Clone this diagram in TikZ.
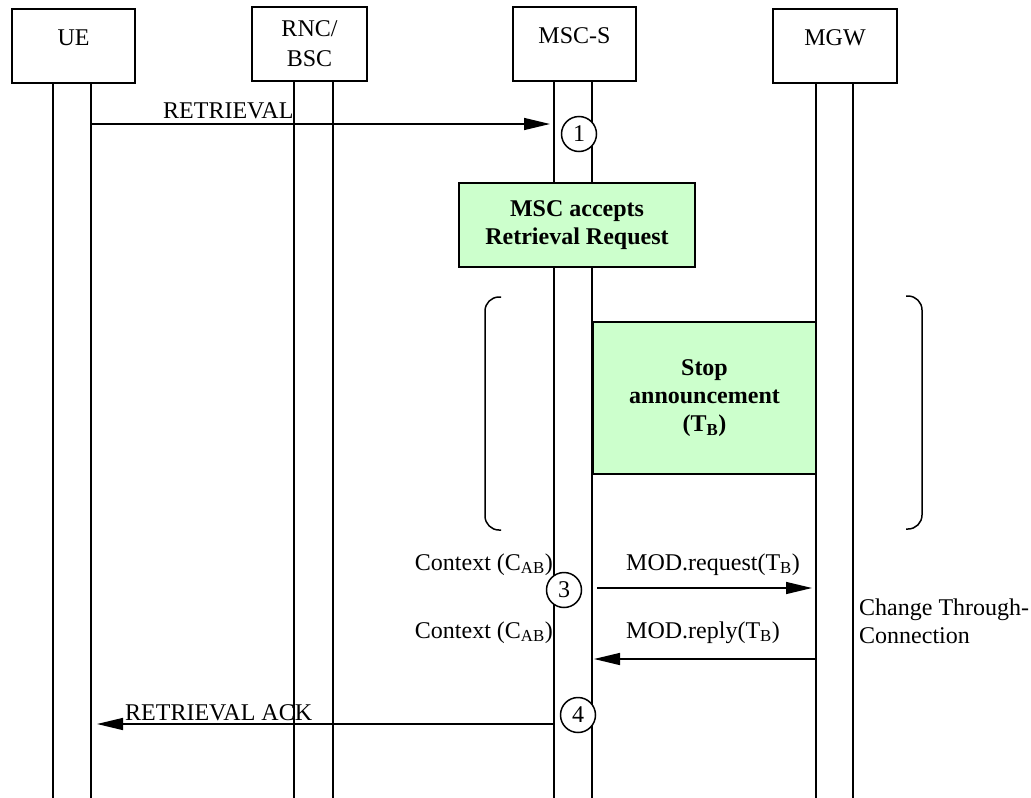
\documentclass[tikz,border=0pt]{standalone}
\usepackage{fontspec}
\setmainfont{Liberation Serif}
\usepackage{tikz}
\usetikzlibrary{arrows.meta}
\definecolor{actGreen}{RGB}{204,255,204}

\begin{document}
\begin{tikzpicture}[x=1pt, y=-1pt,
    every node/.style={font=\fontsize{24}{28}\selectfont},
    head/.style={draw, line width=1.5pt, minimum height=74pt, align=center, inner sep=0pt},
    headone/.style={head, text height=17pt, text depth=19pt},
    act/.style={draw, line width=1.5pt, fill=actGreen, align=center, inner sep=0pt,
      font=\fontsize{24}{28}\selectfont\bfseries},
    life/.style={line width=1.5pt},
    msg/.style={line width=1.5pt, -{Triangle[length=26pt, width=12pt]}},
    num/.style={draw, circle, line width=1.5pt, fill=white, minimum size=35pt, inner sep=0pt},
    lbl/.style={inner sep=0pt}
  ]
    \useasboundingbox (0,0) rectangle (1031,798);
    \node[headone, minimum width=123pt] (ue) at (73.5,46) {UE};
    \node[head, minimum width=115pt] (rnc) at (309.5,44) {RNC/\\[2pt]BSC};
    \node[headone, minimum width=123pt] (msc) at (574.5,44) {MSC-S};
    \node[headone, minimum width=124pt] (mgw) at (835,46) {MGW};
    \foreach \x/\t in {53/83, 91/83, 294/81, 333/81, 554/81, 592/81, 816/83, 853/83}
      \draw[life] (\x,\t) -- (\x,798);
    \node[act, minimum width=236pt, minimum height=84pt] (acc) at (577,225) {MSC accepts\\Retrieval Request};
    \draw[life, rounded corners=14pt] (501,297) -- (485,297) -- (485,530) -- (501,530);
    \draw[life, rounded corners=14pt] (906,296) -- (922,296) -- (922,529) -- (906,529);
    \node[act, minimum width=223pt, minimum height=152pt] (stop) at (704.5,398) {Stop\\announcement\\(T\textsubscript{B})};
    \coordinate (ret1) at (92,124);
    \coordinate (ret2) at (550,124);
    \coordinate (req1) at (597,588);
    \coordinate (req2) at (812,588);
    \coordinate (rep1) at (816,659);
    \coordinate (rep2) at (594,659);
    \coordinate (ack1) at (553,724);
    \coordinate (ack2) at (97,724);
    \draw[msg] (ret1) -- (ret2);
    \draw[msg] (req1) -- (req2);
    \draw[msg] (rep1) -- (rep2);
    \draw[msg] (ack1) -- (ack2);
    \node[lbl, anchor=base west] (tret) at (163,118) {RETRIEVAL};
    \node[lbl, anchor=base west] (treq) at (626,570) {MOD.request(T\textsubscript{B})};
    \node[lbl, anchor=base west] (trep) at (626,638) {MOD.reply(T\textsubscript{B})};
    \node[lbl, anchor=base east] (ctx1) at (553,570) {Context (C\textsubscript{AB})};
    \node[lbl, anchor=base east] (ctx2) at (553,638) {Context (C\textsubscript{AB})};
    \node[lbl, anchor=west, align=left] (chg) at (859,621) {Change Through-\\Connection};
    \node[lbl, anchor=base west] (tack) at (125,720) {RETRIEVAL ACK};
    \node[num] (n1) at (579,134) {1};
    \node[num] (n3) at (564,590) {3};
    \node[num] (n4) at (578,715) {4};
  \end{tikzpicture}
\end{document}
